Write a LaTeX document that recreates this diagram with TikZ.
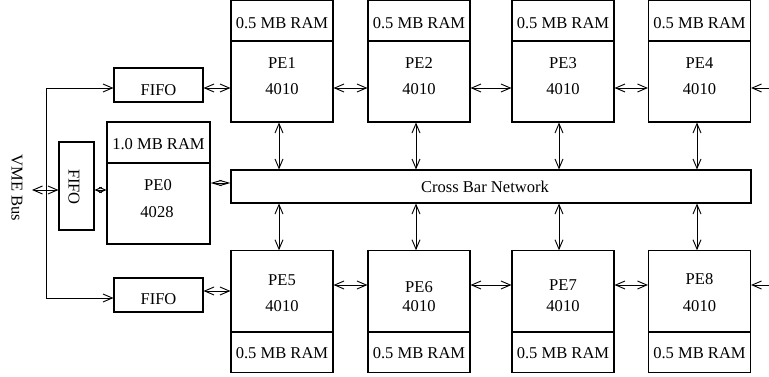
\documentclass[tikz,border=0pt]{standalone}
\usepackage{fontspec}
\setmainfont{Liberation Serif}
\usetikzlibrary{arrows.meta}

\begin{document}
\begin{tikzpicture}[x=0.75pt,y=-0.75pt,
  font=\fontsize{12.4}{14}\selectfont,
  >={Straight Barb[length=7pt,width=6pt]},
  box/.style={draw, line width=0.8pt, inner sep=0pt},
  pebox/.style={box, minimum width=76.5pt, minimum height=91.1pt},
  divider/.style={line width=1.6pt},
  link/.style={<->, line width=0.7pt},
  wire/.style={line width=0.7pt},
  lbl/.style={inner sep=0pt}
]
\useasboundingbox (0,0) rectangle (769,377);

% ---- processing elements, top row (RAM on top) ----
\foreach \n/\cx in {1/282,2/419,3/563,4/699.5}{
  \node[pebox] (pe\n) at (\cx,61.25) {};
  \draw[divider] (pe\n.west |- 0,41) -- (pe\n.east |- 0,41);
  \node[lbl] (ram\n) at (pe\n.center |- 0,23) {0.5 MB RAM};
  \node[lbl] (name\n) at (pe\n.center |- 0,63) {PE\n};
  \node[lbl] (chip\n) at (pe\n.center |- 0,89) {4010};
}

% ---- processing elements, bottom row (RAM at the bottom) ----
\foreach \n/\cx/\ny in {5/282/280,6/419/287,7/563/285,8/699.5/279}{
  \node[pebox] (pe\n) at (\cx,311.5) {};
  \draw[divider] (pe\n.west |- 0,332) -- (pe\n.east |- 0,332);
  \node[lbl] (ram\n) at (pe\n.center |- 0,353) {0.5 MB RAM};
  \node[lbl] (name\n) at (pe\n.center |- 0,\ny) {PE\n};
  \node[lbl] (chip\n) at (pe\n.center |- 0,306) {4010};
}

% ---- host processor PE0 ----
\node[box, minimum width=77.25pt, minimum height=91.5pt] (pe0) at (158.5,183) {};
\draw[divider] (pe0.west |- 0,163) -- (pe0.east |- 0,163);
\node[lbl] (ram0) at (pe0.center |- 0,144) {1.0 MB RAM};
\node[lbl] (name0) at (158,185) {PE0};
\node[lbl] (chip0) at (157,212) {4028};

% ---- crossbar ----
\node[box, minimum width=390pt, minimum height=24.75pt] (xbar) at (491,186.5) {};
\node[lbl] (xbartxt) at (185+300,186.5) {Cross Bar Network};

% ---- FIFOs ----
\node[box, minimum width=66.75pt, minimum height=25.5pt] (fifoA) at (158.5,85) {};
\node[lbl] (fifoAtxt) at (158.5,90) {FIFO};
\node[box, minimum width=66.75pt, minimum height=25.5pt] (fifoB) at (158.5,295) {};
\node[lbl] (fifoBtxt) at (158.5,299) {FIFO};
\node[box, minimum width=26.25pt, minimum height=66pt] (fifo0) at (76.5,186) {};
\node[lbl, rotate=-90] (fifo0txt) at (74,187) {FIFO};

% ---- VME bus ----
\node[lbl, rotate=-90] (vmetxt) at (17,188) {VME Bus};
\coordinate (bustop) at (46,88);
\coordinate (busbot) at (46,298);
\coordinate (vme) at (32,190);
\draw[wire] (bustop) -- (busbot);
\draw[wire,->] (bustop) -- (fifoA.west |- bustop);
\draw[wire,->] (busbot) -- (fifoB.west |- busbot);
\draw[link] (vme) -- (fifo0.west |- vme);
\draw[link, >={Straight Barb[length=4.5pt,width=4pt]}] (fifo0.east |- 0,190) -- (pe0.west |- 0,190);
\draw[link, >={Straight Barb[length=7pt,width=4pt]}] (pe0.east |- 0,183) -- (xbar.west |- 0,183);

% ---- FIFO to PE links ----
\draw[link] (fifoA.east |- 0,88) -- (pe1.west |- 0,88);
\draw[link] (fifoB.east |- 0,291) -- (pe5.west |- 0,291);

% ---- neighbour links ----
\draw[link] (pe1.east |- 0,88) -- (pe2.west |- 0,88);
\draw[link] (pe2.east |- 0,88) -- (pe3.west |- 0,88);
\draw[link] (pe3.east |- 0,88) -- (pe4.west |- 0,88);
\draw[link] (pe5.east |- 0,285) -- (pe6.west |- 0,285);
\draw[link] (pe6.east |- 0,285) -- (pe7.west |- 0,285);
\draw[link] (pe7.east |- 0,285) -- (pe8.west |- 0,285);
\coordinate (outA) at (769,88);
\coordinate (outB) at (769,285);
\draw[wire,->] (outA) -- (pe4.east |- outA);
\draw[wire,->] (outB) -- (pe8.east |- outB);

% ---- crossbar links ----
\foreach \t/\b/\x in {1/5/279,2/6/416,3/7/559,4/8/697}{
  \draw[link] (\x,0 |- pe\t.south) -- (\x,0 |- xbar.north);
  \draw[link] (\x,0 |- xbar.south) -- (\x,0 |- pe\b.north);
}
\end{tikzpicture}
\end{document}
